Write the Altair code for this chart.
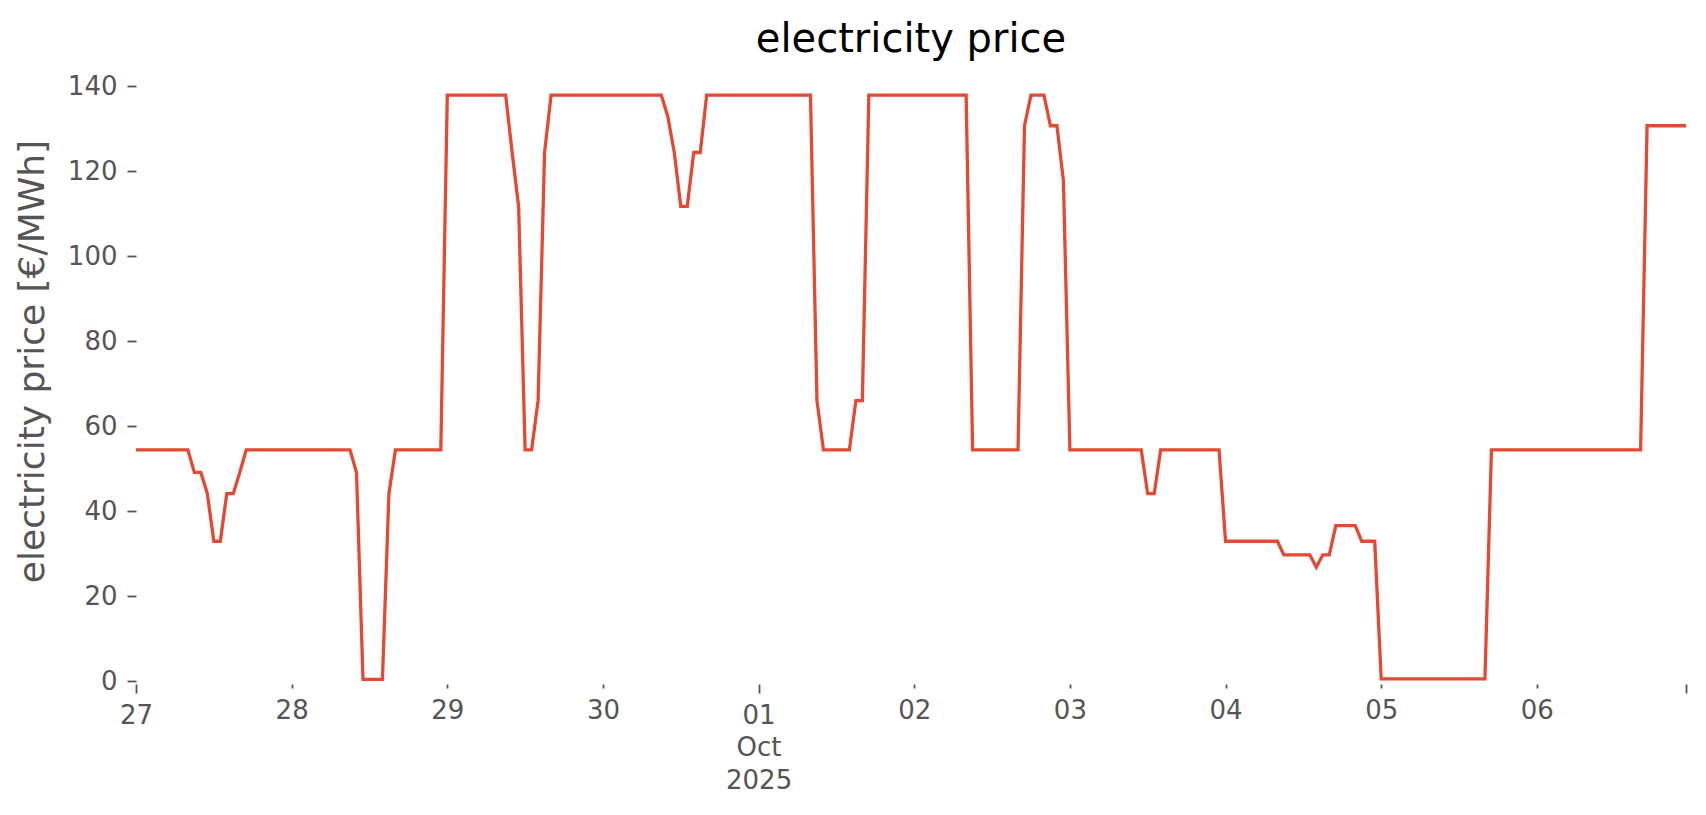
import altair as alt
import pandas as pd

# hourly electricity price [€/MWh], one list per day (hours 0..23)
day_labels = ["2025-09-27", "2025-09-28", "2025-09-29", "2025-09-30", "2025-10-01",
              "2025-10-02", "2025-10-03", "2025-10-04", "2025-10-05", "2025-10-06"]

sep27 = [54.4, 54.4, 54.4, 54.4, 54.4, 54.4, 54.4, 54.4, 54.4, 49.1, 49.1, 44.1,
         32.9, 32.9, 44.1, 44.1, 49.1, 54.4, 54.4, 54.4, 54.4, 54.4, 54.4, 54.4]
sep28 = [54.4, 54.4, 54.4, 54.4, 54.4, 54.4, 54.4, 54.4, 54.4, 54.4, 49.1, 0.4,
         0.4, 0.4, 0.4, 44.1, 54.4, 54.4, 54.4, 54.4, 54.4, 54.4, 54.4, 54.4]
sep29 = [137.9, 137.9, 137.9, 137.9, 137.9, 137.9, 137.9, 137.9, 137.9, 137.9, 124.4, 111.7,
         54.4, 54.4, 66.0, 124.4, 137.9, 137.9, 137.9, 137.9, 137.9, 137.9, 137.9, 137.9]
sep30 = [137.9, 137.9, 137.9, 137.9, 137.9, 137.9, 137.9, 137.9, 137.9, 137.9, 132.9, 124.4,
         111.7, 111.7, 124.4, 124.4, 137.9, 137.9, 137.9, 137.9, 137.9, 137.9, 137.9, 137.9]
oct01 = [137.9, 137.9, 137.9, 137.9, 137.9, 137.9, 137.9, 137.9, 137.9, 66.0, 54.4, 54.4,
         54.4, 54.4, 54.4, 66.0, 66.0, 137.9, 137.9, 137.9, 137.9, 137.9, 137.9, 137.9]
oct02 = [137.9, 137.9, 137.9, 137.9, 137.9, 137.9, 137.9, 137.9, 137.9, 54.4, 54.4, 54.4,
         54.4, 54.4, 54.4, 54.4, 54.4, 130.7, 137.9, 137.9, 137.9, 130.7, 130.7, 117.8]
oct03 = [54.4, 54.4, 54.4, 54.4, 54.4, 54.4, 54.4, 54.4, 54.4, 54.4, 54.4, 54.4,
         44.1, 44.1, 54.4, 54.4, 54.4, 54.4, 54.4, 54.4, 54.4, 54.4, 54.4, 54.4]
oct04 = [32.9, 32.9, 32.9, 32.9, 32.9, 32.9, 32.9, 32.9, 32.9, 29.7, 29.7, 29.7,
         29.7, 29.7, 26.8, 29.7, 29.7, 36.6, 36.6, 36.6, 36.6, 32.9, 32.9, 32.9]
oct05 = [0.5, 0.5, 0.5, 0.5, 0.5, 0.5, 0.5, 0.5, 0.5, 0.5, 0.5, 0.5,
         0.5, 0.5, 0.5, 0.5, 0.5, 54.4, 54.4, 54.4, 54.4, 54.4, 54.4, 54.4]
oct06 = [54.4, 54.4, 54.4, 54.4, 54.4, 54.4, 54.4, 54.4, 54.4, 54.4, 54.4, 54.4,
         54.4, 54.4, 54.4, 54.4, 54.4, 130.7, 130.7, 130.7, 130.7, 130.7, 130.7, 130.7]

y_ticks = [0, 20, 40, 60, 80, 100, 120, 140]

days = [sep27, sep28, sep29, sep30, oct01, oct02, oct03, oct04, oct05, oct06]
rows = []
for d, vals in zip(day_labels, days):
    for h, v in enumerate(vals):
        rows.append({"time": f"{d}T{h:02d}:00:00Z", "price": v})
df = pd.DataFrame(rows)


def ms(s):
    return int(pd.Timestamp(s, tz="UTC").value // 10**6)


x_start = ms("2025-09-27T00:00:00")
x_end = ms("2025-10-06T23:00:00")
x_ticks = [ms(d + "T00:00:00") for d in day_labels] + [x_end]

label_expr = (
    "utchours(datum.value) == 23 ? '' : "
    "(utcdate(datum.value) == 1 ? ['01', 'Oct', '2025'] : utcFormat(datum.value, '%d'))"
)
major_test = ("utcdate(datum.value) == 1 || utcdate(datum.value) == 27 || "
              "utchours(datum.value) == 23")

chart = (
    alt.Chart(df)
    .mark_line(color="#E24A33", strokeWidth=3.3)
    .encode(
        x=alt.X(
            "time:T",
            scale=alt.Scale(type="utc", domain=[x_start, x_end], nice=False),
            axis=alt.Axis(
                title=None,
                values=x_ticks,
                labelExpr=label_expr,
                labelFont="DejaVu Sans",
                labelFontSize=26,
                labelColor="#555555",
                labelLineHeight=32.5,
                labelPadding=9,
                labelFlush=False,
                labelOverlap=False,
                tickColor="#555555",
                tickSize={"condition": {"test": major_test, "value": 9}, "value": 4},
                tickWidth=1.8,
                domain=False,
                grid=False,
            ),
        ),
        y=alt.Y(
            "price:Q",
            scale=alt.Scale(domain=[-0.7, 145], nice=False, zero=False),
            axis=alt.Axis(
                title="electricity price [€/MWh]",
                values=y_ticks,
                labelFont="DejaVu Sans",
                labelFontSize=26,
                labelColor="#555555",
                labelPadding=10,
                tickColor="#555555",
                tickSize=9,
                tickWidth=1.8,
                titleFont="DejaVu Sans",
                titleFontSize=36,
                titleFontWeight="normal",
                titleColor="#555555",
                titlePadding=16,
                titleY=296,
                domain=False,
                grid=False,
            ),
        ),
    )
    .properties(
        width=1550,
        height=619,
        title=alt.TitleParams(
            "electricity price",
            font="DejaVu Sans",
            fontSize=40,
            fontWeight="normal",
            color="#000000",
            anchor="middle",
            frame="group",
            offset=5,
        ),
        autosize=alt.AutoSizeParams(type="none"),
        padding={"left": 128, "top": 57, "right": 12, "bottom": 123},
        background="white",
    )
    .configure_view(stroke=None)
)

chart.save("out.html", embed_options={"renderer": "svg", "actions": False})
